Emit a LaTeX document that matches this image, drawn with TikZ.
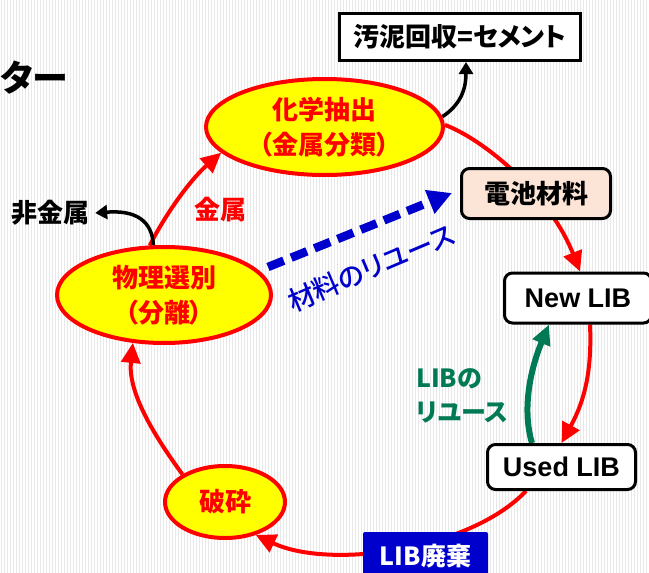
\documentclass[tikz,border=0pt]{standalone}
\usepackage{fontspec}
\setmainfont{Liberation Sans}
\newfontfamily\jp[RawFeature=+palt]{Noto Sans CJK JP}
\newfontfamily\jpm[RawFeature=+palt]{Noto Sans CJK JP Medium}
\usetikzlibrary{arrows.meta,shapes.geometric}
\definecolor{cred}{RGB}{255,0,0}
\definecolor{cyellow}{RGB}{255,255,0}
\definecolor{cpeach}{RGB}{252,228,214}
\definecolor{cblue}{RGB}{0,0,204}
\definecolor{cgreen}{RGB}{0,122,84}
\definecolor{cstripe}{RGB}{232,232,232}
\pgfdeclarelayer{bgl}
\pgfdeclarelayer{edgel}
\pgfsetlayers{bgl,edgel,main}
\begin{document}
\begin{tikzpicture}[x=1pt,y=-1pt,
  jpf/.style={font=\jp\bfseries\fontsize{26}{35}\selectfont},
  proc/.style={ellipse, draw=cred, fill=cyellow, line width=4pt, inner sep=0pt, text=cred, align=center, jpf},
  wbox/.style={draw=black, fill=white, line width=3pt, rounded corners=8pt, inner sep=0pt, font=\bfseries\fontsize{27}{30}\selectfont},
  redarrow/.style={draw=cred, line width=4pt, -{Triangle[length=20pt,width=19pt]}},
  greenarrow/.style={draw=cgreen, line width=6pt, -{Triangle[length=20pt,width=18pt]}},
  blackarrow/.style={draw=black, line width=3.5pt, -{Triangle[length=12pt,width=14pt]}},
  bluedash/.style={draw=cblue, line width=8.5pt, dash pattern=on 17pt off 8pt, -{Triangle[length=24pt,width=24pt]}},
  lbl/.style={inner sep=5pt, jpf}
]
\useasboundingbox (0,0) rectangle (649,573);
\begin{pgfonlayer}{bgl}
  \fill[white] (0,0) rectangle (649,573);
  \foreach \i in {1,4,...,649} \fill[cstripe] (\i,0) rectangle ++(1.2,573);
\end{pgfonlayer}

% nodes
\node[draw=black, fill=white, line width=3pt, minimum width=241pt, minimum height=47pt, inner sep=0pt,
      font=\jp\bfseries\fontsize{26}{28}\selectfont] (sludge) at (460,37) {汚泥回収=セメント};
\node[proc, minimum width=237pt, minimum height=96pt] (chem) at (324.5,127) {化学抽出\\（金属分類）};
\node[wbox, fill=cpeach, minimum width=149pt, minimum height=50pt, font=\jp\bfseries\fontsize{26}{30}\selectfont] (bat) at (536,193.5) {電池材料};
\node[wbox, minimum width=147pt, minimum height=50pt] (newlib) at (578,298) {New LIB};
\node[wbox, minimum width=148pt, minimum height=45pt] (usedlib) at (561.5,467) {Used LIB};
\node[fill=cblue, rounded corners=2pt, minimum width=125pt, minimum height=48pt, inner sep=0pt, text=white,
      font=\jp\bfseries\fontsize{25}{30}\selectfont] (waste) at (425.5,556) {LIB廃棄};
\node[proc, minimum width=120pt, minimum height=72pt] (crush) at (225,502) {破砕};
\node[proc, minimum width=214pt, minimum height=96pt] (phys) at (164,295) {物理選別\\（分離）};

\node[lbl, text=black] (nonmetal) at (51,213) {非金属};
\node[lbl, text=cred] (metal) at (220,210) {金属};
\node[inner sep=0pt, anchor=west, font=\jp\bfseries\fontsize{36}{38}\selectfont] (cut) at (0,78) {ター};
\node[inner sep=0pt, text=cblue, rotate=23, font=\jpm\fontsize{27}{30}\selectfont] (reuse) at (371,268) {材料のリユース};
\node[inner sep=0pt, anchor=west, align=left, text=cgreen, font=\jp\bfseries\fontsize{25}{34}\selectfont] (libreuse) at (416,396) {LIBの\\リユース};

\coordinate (rs) at (268,267);
\coordinate (re) at (452,193);

% connectors
\begin{pgfonlayer}{edgel}
  \draw[redarrow] (crush.147) .. controls (150,430) and (128,390) .. (phys.237);
  \draw[redarrow] (phys.106) .. controls (165,215) and (190,180) .. (chem.194);
  \draw[redarrow] (chem.1) .. controls (485,140) and (550,195) .. ([xshift=2pt]newlib.north);
  \draw[redarrow] ([xshift=12pt]newlib.south) .. controls (592,370) and (585,400) .. (usedlib.north);
  \draw[greenarrow] ([xshift=-29.5pt]usedlib.north) .. controls (522,410) and (530,370) .. ([xshift=-29pt]newlib.south);
  \draw[redarrow] ([xshift=-35.5pt]usedlib.south) .. controls (470,550) and (330,570) .. (crush.-47);
  \draw[blackarrow] (phys.102) .. controls (152,220) and (135,210) .. (nonmetal.east);
  \draw[blackarrow] (chem.5) .. controls (460,105) and (466,90) .. ([xshift=6pt]sludge.south);
  \draw[bluedash] (rs) -- (re);
\end{pgfonlayer}
\end{tikzpicture}
\end{document}
